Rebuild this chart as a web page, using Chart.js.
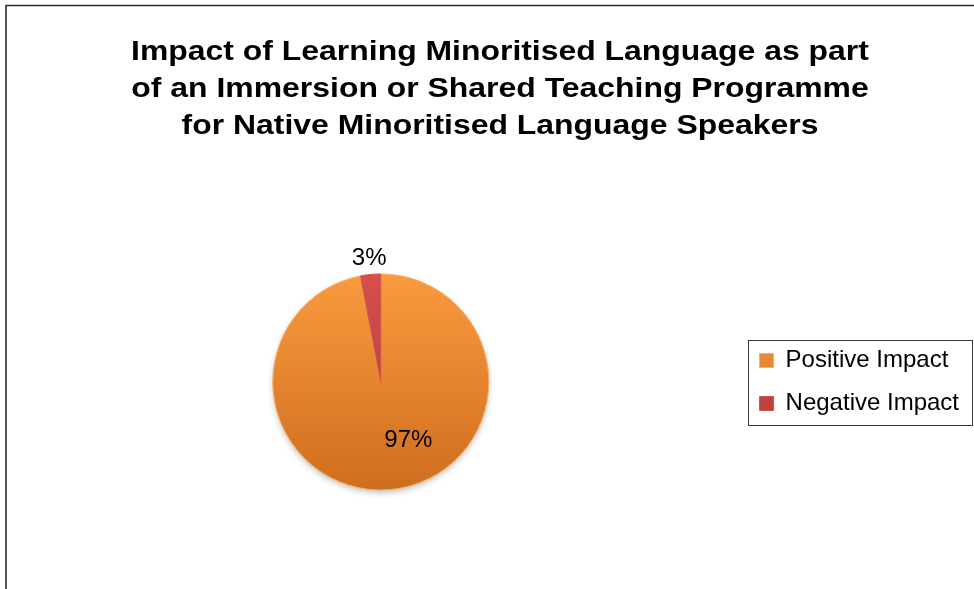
<!DOCTYPE html>
<html lang="en">
<head>
    <meta charset="UTF-8">
    <title>Impact of Learning Minoritised Language</title>
    <script src="https://cdn.jsdelivr.net/npm/chart.js"></script>
    <style>
        body { margin: 0; background: #fff; }
        canvas#impactChart { display: block; }
    </style>
</head>
<body>
    <canvas id="impactChart" width="974" height="589"></canvas>

    <script>
        // Dados do gráfico
        const categorias = ['Positive Impact', 'Negative Impact'];
        const valores = [97, 3];
        const titulo = [
            'Impact of Learning Minoritised Language as part',
            'of an Immersion or Shared Teaching Programme',
            'for Native Minoritised Language Speakers'
        ];

        // Cores (topo e base do degradê de cada fatia)
        const coresTopo = ['#FA9A3E', '#D4504C'];
        const coresBase = ['#CE6E1F', '#AE3A37'];
        const FONTE = '"Liberation Sans", Arial, sans-serif';
        const RAIO = 108;

        // Degradê vertical por fatia
        function degrade(ctx) {
            const chart = ctx.chart;
            const area = chart.chartArea;
            const i = ctx.dataIndex;
            if (!area) return coresTopo[i];
            const cy = (area.top + area.bottom) / 2;
            const g = chart.ctx.createLinearGradient(0, cy - RAIO, 0, cy + RAIO);
            g.addColorStop(0, coresTopo[i]);
            g.addColorStop(1, coresBase[i]);
            return g;
        }

        // Moldura do gráfico (linhas superior e esquerda)
        const moldura = {
            id: 'moldura',
            beforeDraw(chart) {
                const c = chart.ctx;
                c.save();
                c.strokeStyle = '#2b2b2b';
                c.lineWidth = 1.6;
                c.beginPath();
                c.moveTo(974, 5.5);
                c.lineTo(6, 5.5);
                c.lineTo(6, 589);
                c.stroke();
                c.restore();
            }
        };

        // Título em negrito, levemente alargado
        const tituloLargo = {
            id: 'tituloLargo',
            afterDraw(chart) {
                const c = chart.ctx;
                const cx = 500;
                c.save();
                c.font = 'bold 28px ' + FONTE;
                c.fillStyle = '#000';
                c.textAlign = 'center';
                c.textBaseline = 'alphabetic';
                titulo.forEach((linha, i) => {
                    c.save();
                    c.translate(cx, 59.5 + i * 37);
                    c.scale(1.14, 1);
                    c.fillText(linha, 0, 0);
                    c.restore();
                });
                c.restore();
            }
        };

        // Sombra suave sob a pizza
        const sombra = {
            id: 'sombra',
            beforeDatasetsDraw(chart) {
                const arc = chart.getDatasetMeta(0).data[0];
                if (!arc) return;
                const c = chart.ctx;
                c.save();
                c.shadowColor = 'rgba(0,0,0,0.30)';
                c.shadowBlur = 7;
                c.shadowOffsetY = 3;
                c.fillStyle = '#fff';
                c.beginPath();
                c.arc(arc.x, arc.y, arc.outerRadius - 1, 0, Math.PI * 2);
                c.fill();
                c.restore();
            }
        };

        // Rótulos de porcentagem
        const rotulos = {
            id: 'rotulos',
            afterDatasetsDraw(chart) {
                const meta = chart.getDatasetMeta(0);
                const total = valores.reduce((a, b) => a + b, 0);
                const c = chart.ctx;
                c.save();
                c.font = '24px ' + FONTE;
                c.fillStyle = '#000';
                c.textAlign = 'center';
                c.textBaseline = 'middle';
                meta.data.forEach((arc, i) => {
                    const meio = (arc.startAngle + arc.endAngle) / 2;
                    const texto = Math.round(valores[i] / total * 100) + '%';
                    let x, y;
                    if (valores[i] / total > 0.5) {
                        // dentro da fatia
                        const r = arc.outerRadius * 0.55;
                        x = arc.x + Math.cos(meio) * r + 22;
                        y = arc.y + Math.sin(meio) * r - 1;
                    } else {
                        // fora da fatia
                        const r = arc.outerRadius + 16;
                        x = arc.x + Math.cos(meio) * r;
                        y = arc.y + Math.sin(meio) * r;
                    }
                    c.fillText(texto, x, y);
                });
                c.restore();
            }
        };

        // Caixa em volta da legenda
        const caixaLegenda = {
            id: 'caixaLegenda',
            afterDraw(chart) {
                const boxes = chart.legend && chart.legend.legendHitBoxes;
                if (!boxes || !boxes.length) return;
                let l = Infinity, t = Infinity, r = -Infinity, b = -Infinity;
                boxes.forEach(h => {
                    l = Math.min(l, h.left);
                    t = Math.min(t, h.top);
                    r = Math.max(r, h.left + h.width);
                    b = Math.max(b, h.top + h.height);
                });
                const c = chart.ctx;
                c.save();
                c.strokeStyle = '#3a3a3a';
                c.lineWidth = 1;
                c.strokeRect(Math.round(l - 12) + 0.5, Math.round(t - 9) + 0.5,
                    Math.round(r - l + 25), Math.round(b - t + 18));
                c.restore();
            }
        };

        const ctx = document.getElementById('impactChart').getContext('2d');
        new Chart(ctx, {
            type: 'pie',
            data: {
                labels: categorias,
                datasets: [{
                    data: valores,
                    backgroundColor: degrade,
                    borderColor: ['#F8AE68', '#D4504C'],
                    borderWidth: 1,
                    radius: RAIO
                }]
            },
            options: {
                responsive: false,
                animation: false,
                layout: {
                    padding: { left: 21, right: 5, top: 225, bottom: 50 }
                },
                plugins: {
                    title: { display: false },
                    legend: {
                        position: 'right',
                        fullSize: false,
                        labels: {
                            boxWidth: 14,
                            boxHeight: 14,
                            padding: 19,
                            color: '#000',
                            font: { family: FONTE, size: 24 }
                        }
                    },
                    tooltip: { enabled: false }
                }
            },
            plugins: [moldura, sombra, rotulos, caixaLegenda, tituloLargo]
        });
    </script>
</body>
</html>
